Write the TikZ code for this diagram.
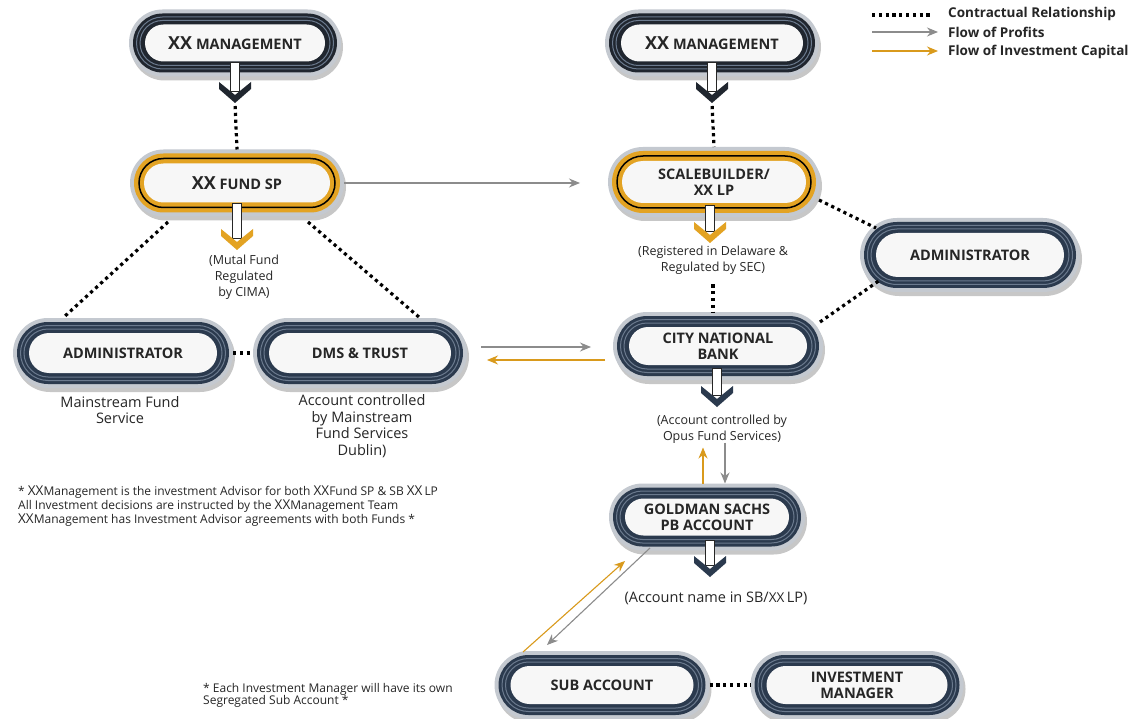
\documentclass[tikz,border=0pt]{standalone}
\usepackage{fontspec}
\setmainfont{Open Sans}
\usetikzlibrary{shapes.misc,arrows.meta,shadows,calc}
\definecolor{navy}{HTML}{2B3A4E}
\definecolor{darkring}{HTML}{20262F}
\definecolor{stripe}{HTML}{6B7A8E}
\definecolor{halo}{HTML}{C4C9D0}
\definecolor{gold}{HTML}{E3A323}
\definecolor{goldarrow}{HTML}{D99A1C}
\definecolor{grayarrow}{HTML}{8C8C8C}
\definecolor{core}{HTML}{F7F7F7}
\tikzset{
  pillbase/.style={rounded rectangle, inner sep=0pt, outer sep=0pt},
  halopill/.style={pillbase, fill=halo, drop shadow={shadow xshift=2pt, shadow yshift=-4pt, opacity=0.22, fill=black}},
  ringpill/.style={pillbase, fill=#1},
  stripepill/.style={pillbase, draw=#1, line width=1pt},
  corepill/.style={pillbase, fill=core, align=center, font=\fontsize{14.5}{16}\selectfont\bfseries, text=black!85},
  contract/.style={line width=3.2pt, dash pattern=on 3.2pt off 3.6pt, draw=black},
  profit/.style={draw=grayarrow, line width=1.1pt, -{Stealth[length=11pt,width=9pt]}},
  capital/.style={draw=goldarrow, line width=1.1pt, -{Stealth[length=11pt,width=9pt]}},
  desc/.style={align=center, font=\fontsize{12.5}{16}\selectfont, text=black!85, inner sep=0pt},
  descbig/.style={align=center, font=\fontsize{14.5}{16.5}\selectfont, text=black!85, inner sep=0pt},
  legendtext/.style={anchor=west, font=\fontsize{13.5}{15}\selectfont\bfseries, text=black!85, inner sep=0pt},
  note/.style={align=left, anchor=north west, font=\fontsize{12}{14}\selectfont, text=black!85, inner sep=0pt},
}
\newcommand\xxmark{{\fontsize{13.5}{14}\selectfont XX}}
\newcommand\bigxx{{\fontsize{18}{18}\selectfont\bfseries XX}}
% name, x, y, w, h, ring colour, text
\newcommand\ringedpill[7]{%
  \pgfmathsetmacro\pwA{#4-8}\pgfmathsetmacro\phA{#5-8}%
  \pgfmathsetmacro\pwB{#4-15}\pgfmathsetmacro\phB{#5-15}%
  \pgfmathsetmacro\pwC{#4-22}\pgfmathsetmacro\phC{#5-22}%
  \pgfmathsetmacro\pwD{#4-32}\pgfmathsetmacro\phD{#5-30}%
  \node[halopill, minimum width=#4pt, minimum height=#5pt] (#1) at (#2,#3) {};
  \node[ringpill=#6, minimum width=\pwA pt, minimum height=\phA pt] (#1-r) at (#2,#3) {};
  \node[stripepill=stripe, minimum width=\pwB pt, minimum height=\phB pt] (#1-s1) at (#2,#3) {};
  \node[stripepill=stripe, minimum width=\pwC pt, minimum height=\phC pt] (#1-s2) at (#2,#3) {};
  \node[corepill, minimum width=\pwD pt, minimum height=\phD pt] (#1-c) at (#2,#3) {#7};
}
% name, x, y, w, h, text
\newcommand\goldpill[6]{%
  \pgfmathsetmacro\pwA{#4-8}\pgfmathsetmacro\phA{#5-8}%
  \pgfmathsetmacro\pwB{#4-18}\pgfmathsetmacro\phB{#5-18}%
  \pgfmathsetmacro\pwD{#4-28}\pgfmathsetmacro\phD{#5-28}%
  \node[halopill, minimum width=#4pt, minimum height=#5pt] (#1) at (#2,#3) {};
  \node[ringpill=gold, minimum width=\pwA pt, minimum height=\phA pt] (#1-r) at (#2,#3) {};
  \node[pillbase, draw=black, line width=1.5pt, minimum width=\pwB pt, minimum height=\phB pt] (#1-s1) at (#2,#3) {};
  \node[corepill, minimum width=\pwD pt, minimum height=\phD pt] (#1-c) at (#2,#3) {#6};
}
% tip name, cx, shaft top, chevron top, colour
\newcommand\pilldrop[5]{%
  \begin{scope}[shift={(#2,#4)}]
    \draw[fill=white, draw=black!85, line width=0.9pt] (-4.5,#3-#4) rectangle (4.5,9);
    \fill[#5] (-16,0) -- (0,13) -- (16,0) -- (16,7) -- (0,21) -- (-16,7) -- cycle;
    \coordinate (#1) at (0,21);
  \end{scope}
}
\begin{document}
\begin{tikzpicture}[x=1pt, y=-1pt]
\useasboundingbox[fill=white] (0,0) rectangle (1140,719);

% ---------- pills ----------
\ringedpill{lxm}{235}{43}{212}{67}{darkring}{\bigxx{} MANAGEMENT}
\ringedpill{rxm}{712}{43}{214}{67}{darkring}{\bigxx{} MANAGEMENT}
\goldpill{fund}{237}{183}{214}{67}{\bigxx{} FUND SP}
\goldpill{sb}{714}{182}{212}{70}{SCALEBUILDER/\\XX LP}
\ringedpill{adminL}{123}{353}{220}{70}{navy}{ADMINISTRATOR}
\ringedpill{dms}{360}{353}{214}{70}{navy}{DMS \& TRUST}
\ringedpill{adminR}{970}{255}{220}{74}{navy}{ADMINISTRATOR}
\ringedpill{cnb}{718}{346}{210}{68}{navy}{CITY NATIONAL\\BANK}
\ringedpill{gs}{707}{517}{196}{67}{navy}{GOLDMAN SACHS\\PB ACCOUNT}
\ringedpill{sub}{602}{685}{215}{68}{navy}{SUB ACCOUNT}
\ringedpill{inv}{857}{685}{213}{68}{navy}{INVESTMENT\\MANAGER}

% ---------- down arrows ----------
\pilldrop{lxmtip}{235}{62}{82}{darkring}
\pilldrop{rxmtip}{712}{62}{82}{darkring}
\pilldrop{fundtip}{237}{203}{229}{gold}
\pilldrop{sbtip}{710}{205}{222}{gold}
\pilldrop{cnbtip}{717}{368}{386}{navy}
\pilldrop{gstip}{710}{540}{556}{navy}

% ---------- texts ----------
\node[desc] (mutal) at (244,277) {(Mutal Fund\\Regulated\\by CIMA)};
\node[descbig] (mfs) at (120,410) {Mainstream Fund\\Service};
\node[descbig] (acm) at (362,426) {Account controlled\\by Mainstream\\Fund Services\\Dublin)};
\node[desc] (reg) at (713,260) {(Registered in Delaware \&\\Regulated by SEC)};
\node[desc] (opus) at (722,429) {(Account controlled by\\Opus Fund Services)};
\node[descbig] (accname) at (716,598) {(Account name in SB/\xxmark\,LP)};
\node[note] (note1) at (18,486) {* \xxmark Management is the investment Advisor for both \xxmark Fund SP \& SB \xxmark\,LP\\All Investment decisions are instructed by the \xxmark Management Team\\\xxmark Management has Investment Advisor agreements with both Funds *};
\node[note, font=\fontsize{12}{12.5}\selectfont] (note2) at (203,683) {* Each Investment Manager will have its own\\Segregated Sub Account *};

% ---------- contractual relationships ----------
\draw[contract, shorten <=3pt] (lxmtip) -- (fund.north);
\draw[contract, shorten <=3pt] (rxmtip) -- (sb.north);
\draw[contract] ($(fund.center)+(-69,39)$) -- ($(adminL.center)+(-59,-36)$);
\draw[contract] ($(fund.center)+(71,39)$) -- ($(dms.center)+(60,-35)$);
\draw[contract] (adminL.east) -- (dms.west);
\draw[contract] ($(sb.center)+(105,18)$) -- ($(adminR.center)+(-94,-27)$);
\draw[contract] ($(cnb.center)+(102,-24)$) -- ($(adminR.center)+(-90,25)$);
\draw[contract] ($(reg.south)+(0,10)$) -- (reg.south |- cnb.north);
\draw[contract] (sub.east) -- (inv.west);

% ---------- flows ----------
\coordinate (pf1) at ($(fund.east -| sb.west)+(-28,0)$);
\draw[profit] (fund.east) -- (pf1);
\coordinate (g1s) at ($(dms.east)+(14,-6)$);
\coordinate (g1e) at ($(cnb.west)+(-22,0)$);
\draw[profit] (g1s) -- (g1s -| g1e);
\coordinate (c1s) at ($(cnb.west)+(-8,14)$);
\coordinate (c1e) at ($(dms.east)+(20,0)$);
\draw[capital] (c1s) -- (c1s -| c1e);
\draw[capital] ($(gs.north)+(-4,0)$) -- ($(gs.north)+(-4,-36)$);
\draw[profit] ($(gs.north)+(18,-41)$) -- ($(gs.north)+(18,0)$);
\draw[capital] ($(sub.center)+(-79,-33)$) -- ($(gs.center)+(-82,44)$);
\draw[profit] ($(gs.center)+(-57,31)$) -- ($(sub.center)+(-55,-40)$);

% ---------- legend ----------
\coordinate (lg1a) at (872,15); \coordinate (lg1b) at (932,15);
\coordinate (lg2a) at (872,32); \coordinate (lg2b) at (938,32);
\coordinate (lg3a) at (872,51); \coordinate (lg3b) at (938,51);
\draw[contract] (lg1a) -- (lg1b);
\draw[profit] (lg2a) -- (lg2b);
\draw[capital] (lg3a) -- (lg3b);
\node[legendtext] (lt1) at (948,14) {Contractual Relationship};
\node[legendtext] (lt2) at (948,32) {Flow of Profits};
\node[legendtext] (lt3) at (948,52) {Flow of Investment Capital};
\end{tikzpicture}
\end{document}
